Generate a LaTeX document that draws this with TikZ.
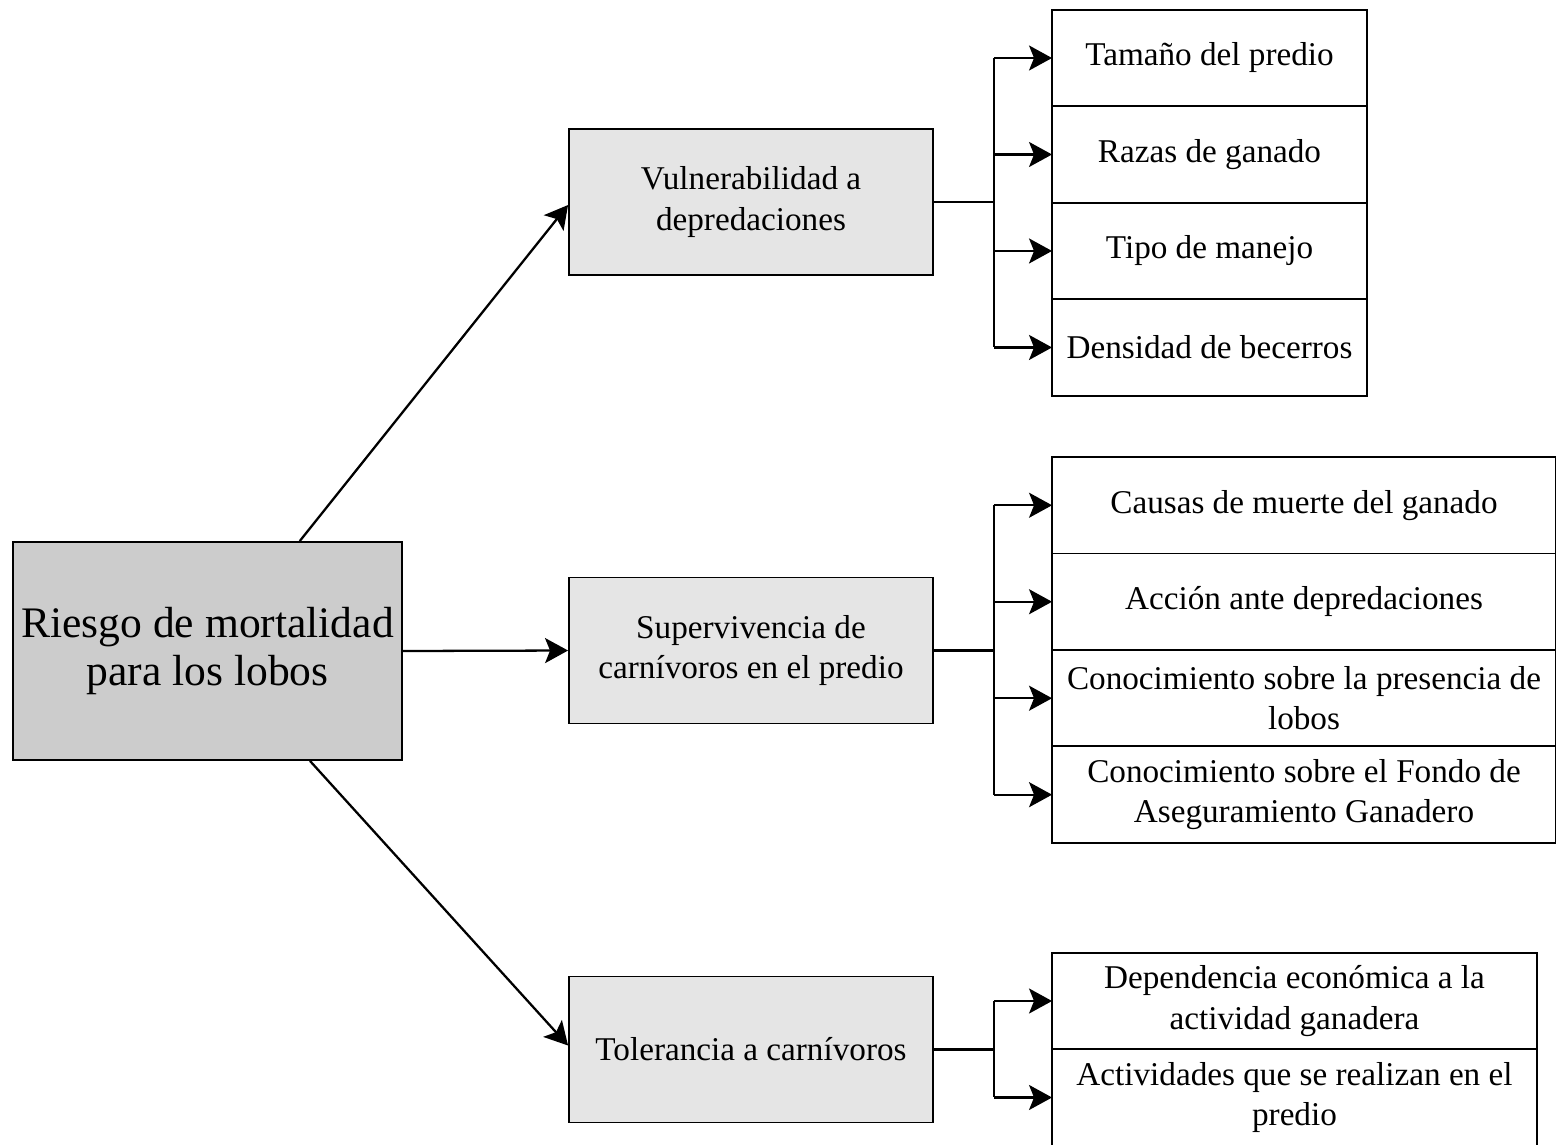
\documentclass[tikz,border=0pt]{standalone}
\usepackage{fontspec}
\setmainfont{Liberation Serif}
\usetikzlibrary{arrows.meta, positioning, calc}
\tikzset{
	every node/.style={
		font=\fontsize{18.9}{22.8}\selectfont
	},
	raiz/.style={
		shape=rectangle,
		draw,
		line width=1.1pt,
		fill=gray!40,
		minimum width=7.78cm,
		minimum height=4.36cm,
		align=center,
		font=\fontsize{24.8}{27.3}\selectfont
	},
	factor/.style={
		shape=rectangle,
		draw,
		line width=1.1pt,
		fill=gray!20,
		minimum width=7.28cm,
		minimum height=2.92cm,
		align=center
	},
	indicador/.style={
		shape=rectangle,
		draw,
		line width=1.1pt,
		fill=white,
		minimum height=1.93cm,
		inner sep=2pt,
		outer sep=0pt,
		align=center
	},
	flecha/.style={
		-{Stealth[length=0.46cm,width=0.5cm,inset=0.1cm]},
		line width=1.3pt
	},
	bus/.style={
		line width=1.3pt
	}
}

\begin{document}
\begin{tikzpicture}[x=0.02cm,y=-0.02cm]
	\useasboundingbox (0,0) rectangle (1556,1144);
	
	% raiz y factores
	\node[raiz]   (raiz) at (207.5,651)  {Riesgo de mortalidad\\para los lobos};
	\node[factor] (vul)  at (751,202)    {Vulnerabilidad a\\depredaciones};
	\node[factor] (sup)  at (751,650.5)  {Supervivencia de\\carnívoros en el predio};
	\node[factor] (tol)  at (751,1049.5) {Tolerancia a carnívoros};
	
	% indicadores de vulnerabilidad
	\node[indicador, minimum width=6.3cm] (v1) at (1209.5,58) {Tamaño del predio};
	\node[indicador, minimum width=6.3cm, below=0pt of v1] (v2) {Razas de ganado};
	\node[indicador, minimum width=6.3cm, below=0pt of v2] (v3) {Tipo de manejo};
	\node[indicador, minimum width=6.3cm, below=0pt of v3] (v4) {Densidad de becerros};
	
	% indicadores de supervivencia
	\node[indicador, minimum width=10.08cm] (s1) at (1304,505.25) {Causas de muerte del ganado};
	\node[indicador, minimum width=10.08cm, below=0pt of s1] (s2) {Acción ante depredaciones};
	\node[indicador, minimum width=10.08cm, below=0pt of s2] (s3) {Conocimiento sobre la presencia de\\lobos};
	\node[indicador, minimum width=10.08cm, below=0pt of s3] (s4) {Conocimiento sobre el Fondo de\\Aseguramiento Ganadero};
	
	% indicadores de tolerancia
	\node[indicador, minimum width=9.7cm] (t1) at (1294.5,1001) {Dependencia económica a la\\actividad ganadera};
	\node[indicador, minimum width=9.7cm, below=0pt of t1] (t2) {Actividades que se realizan en el\\predio};
	
	\draw[flecha] (raiz.50)   -- ([yshift=-0.06cm]vul.west);
	\draw[flecha] (raiz.east) -- (sup.west);
	\draw[flecha] (raiz.-47)  -- ([yshift=0.08cm]tol.west);
	
	\draw[bus] (vul.east) -- ++(60,0) coordinate (bv);
	\draw[bus] (bv |- v1) -- (bv |- v4);
	\foreach \n in {v1,v2,v3,v4}
		\draw[flecha] (bv |- \n) -- (\n.west);
	
	\draw[bus] (sup.east) -- ++(60,0) coordinate (bs);
	\draw[bus] (bs |- s1) -- (bs |- s4);
	\foreach \n in {s1,s2,s3,s4}
		\draw[flecha] (bs |- \n) -- (\n.west);
	
	\draw[bus] (tol.east) -- ++(60,0) coordinate (bt);
	\draw[bus] (bt |- t1) -- (bt |- t2);
	\foreach \n in {t1,t2}
		\draw[flecha] (bt |- \n) -- (\n.west);
\end{tikzpicture}
\end{document}
